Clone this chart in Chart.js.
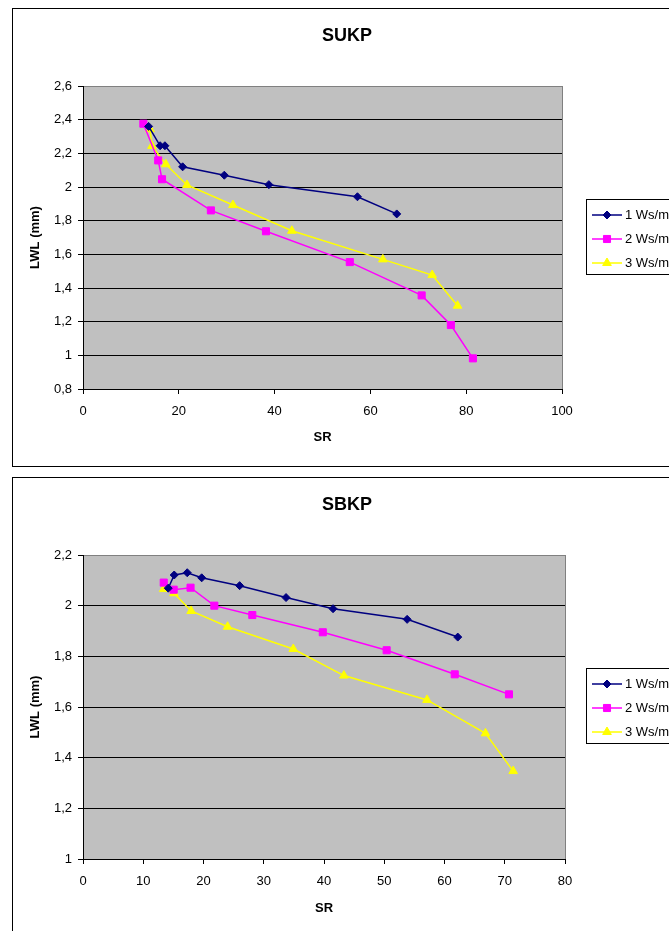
<!DOCTYPE html>
<html><head><meta charset="utf-8">
<script src="https://cdn.jsdelivr.net/npm/chart.js@4/dist/chart.umd.min.js"></script>
<style>
html,body{margin:0;padding:0;background:#fff;overflow:hidden;width:669px;height:931px;}
.box{position:absolute;left:12px;border:1px solid #000;background:#fff;}
#b1{top:8px;} #b2{top:477px;}
canvas{display:block;}
</style></head><body>
<div class="box" id="b1"><canvas id="c1" width="668" height="457"></canvas></div>
<div class="box" id="b2"><canvas id="c2" width="668" height="460"></canvas></div>
<script>
const SERIES_NAMES = ['1 Ws/mm', '2 Ws/mm', '3 Ws/mm'];
const TITLES = ['SUKP', 'SBKP'];
const X_TITLE = 'SR';
const Y_TITLE = 'LWL (mm)';

// SUKP (top)
const SUKP_SR_1  = [13.7, 16.1, 17.1, 20.8, 29.5, 38.8, 57.3, 65.5];
const SUKP_LWL_1 = [2.36, 2.245, 2.245, 2.12, 2.07, 2.014, 1.942, 1.84];
const SUKP_SR_2  = [12.6, 15.7, 16.5, 26.7, 38.2, 55.7, 70.7, 76.8, 81.4];
const SUKP_LWL_2 = [2.376, 2.158, 2.046, 1.861, 1.737, 1.554, 1.356, 1.18, 0.982];
const SUKP_SR_3  = [14.0, 14.4, 17.3, 21.7, 31.3, 43.6, 62.6, 72.9, 78.2];
const SUKP_LWL_3 = [2.343, 2.244, 2.135, 2.012, 1.893, 1.74, 1.57, 1.477, 1.295];

// SBKP (bottom)
const SBKP_SR_1  = [14.15, 15.14, 17.3, 19.7, 26.0, 33.7, 41.5, 53.8, 62.2];
const SBKP_LWL_1 = [2.069, 2.121, 2.13, 2.11, 2.079, 2.032, 1.988, 1.946, 1.876];
const SBKP_SR_2  = [13.4, 15.05, 17.85, 21.8, 28.1, 39.8, 50.4, 61.7, 70.7];
const SBKP_LWL_2 = [2.091, 2.063, 2.071, 2.0, 1.963, 1.895, 1.824, 1.729, 1.65];
const SBKP_SR_3  = [13.4, 15.1, 17.95, 24.0, 34.9, 43.3, 57.1, 66.8, 71.4];
const SBKP_LWL_3 = [2.066, 2.049, 1.979, 1.917, 1.829, 1.724, 1.628, 1.496, 1.347];

const FONT = '"Liberation Sans", Arial, sans-serif';
Chart.defaults.font.family = FONT;
Chart.defaults.color = '#000';

const STYLES = [
  {color: '#000080', pointStyle: 'rectRot', radius: 4},
  {color: '#FF00FF', pointStyle: 'rect', radius: 5},
  {color: '#FFFF00', pointStyle: 'triangle', radius: 5}
];

function pts(xs, ys) { return xs.map((x, i) => ({x: x, y: ys[i]})); }

function fmt(v) {
  const r = Math.round(v * 10) / 10;
  return String(r).replace('.', ',');
}

const plotBg = {
  id: 'plotBg',
  beforeDraw(chart) {
    const {ctx, chartArea: a} = chart;
    ctx.save();
    ctx.fillStyle = '#C0C0C0';
    ctx.fillRect(a.left, a.top, a.right - a.left, a.bottom - a.top);
    ctx.restore();
  },
  beforeDatasetsDraw(chart) {
    const {ctx, chartArea: a} = chart;
    ctx.save();
    ctx.strokeStyle = '#808080';
    ctx.lineWidth = 1;
    ctx.beginPath();
    ctx.moveTo(Math.round(a.right) + 0.5, a.top);
    ctx.lineTo(Math.round(a.right) + 0.5, a.bottom);
    ctx.stroke();
    ctx.restore();
  }
};

const xlLegend = {
  id: 'xlLegend',
  afterDraw(chart, args, o) {
    const ctx = chart.ctx;
    ctx.save();
    ctx.fillStyle = '#fff';
    ctx.fillRect(o.left, o.top, 200, o.height);
    ctx.strokeStyle = '#000';
    ctx.lineWidth = 1;
    ctx.strokeRect(o.left + 0.5, o.top + 0.5, 200, o.height);
    chart.data.datasets.forEach((ds, i) => {
      const y = o.top + o.rows[i];
      ctx.strokeStyle = ds.borderColor;
      ctx.lineWidth = ds.borderWidth;
      ctx.beginPath();
      ctx.moveTo(o.lineX0, y);
      ctx.lineTo(o.lineX1, y);
      ctx.stroke();
      ctx.fillStyle = ds.pointBackgroundColor;
      ctx.strokeStyle = ds.pointBorderColor;
      ctx.lineWidth = 1;
      if (Chart.helpers && Chart.helpers.drawPoint) {
        Chart.helpers.drawPoint(ctx, {pointStyle: ds.pointStyle, radius: ds.pointRadius, borderWidth: 1, rotation: 0}, (o.lineX0 + o.lineX1) / 2, y);
      }
      ctx.fillStyle = '#000';
      ctx.font = '13px ' + FONT;
      ctx.textBaseline = 'middle';
      ctx.textAlign = 'left';
      ctx.fillText(ds.label, o.textX, y);
    });
    ctx.restore();
  }
};

function makeChart(id, title, series, xCfg, yCfg, geo) {
  const datasets = series.map((s, i) => ({
    label: SERIES_NAMES[i],
    data: s,
    showLine: true,
    tension: 0,
    borderColor: STYLES[i].color,
    backgroundColor: STYLES[i].color,
    borderWidth: 1.5,
    pointStyle: STYLES[i].pointStyle,
    pointRadius: STYLES[i].radius,
    pointHoverRadius: STYLES[i].radius,
    pointBackgroundColor: STYLES[i].color,
    pointBorderColor: STYLES[i].color,
    pointBorderWidth: 1
  }));
  return new Chart(document.getElementById(id), {
    type: 'scatter',
    data: {datasets: datasets},
    plugins: [plotBg, xlLegend],
    options: {
      responsive: false,
      animation: false,
      events: [],
      layout: {padding: 0},
      plugins: {
        legend: {display: false},
        tooltip: {enabled: false},
        title: {
          display: true, text: title,
          font: {size: 18, weight: 'bold', lineHeight: 1.2},
          padding: {top: geo.titleTop, bottom: geo.titleBottom}
        },
        xlLegend: {left: 573, top: geo.legTop, height: 75, rows: [16, 40, 64], lineX0: 579, lineX1: 609, textX: 612}
      },
      scales: {
        x: {
          type: 'linear', position: 'bottom',
          min: xCfg.min, max: xCfg.max,
          afterFit: s => { s.height = geo.xH; },
          ticks: {stepSize: xCfg.step, padding: 10, font: {size: 13}, color: '#000', maxRotation: 0},
          grid: {display: true, drawOnChartArea: false, drawTicks: true, tickLength: 5, color: '#000', lineWidth: 1},
          border: {display: true, color: '#000', width: 1},
          title: {display: true, text: X_TITLE, font: {size: 13, weight: 'bold', lineHeight: 1.2}, padding: {top: 0, bottom: geo.xTitleBottom}}
        },
        y: {
          type: 'linear', position: 'left',
          min: yCfg.min, max: yCfg.max,
          afterFit: s => { s.width = 70; },
          ticks: {stepSize: yCfg.step, padding: 6, font: {size: 13}, color: '#000', callback: v => fmt(v)},
          grid: {
            display: true, drawOnChartArea: true, drawTicks: true, tickLength: 5, lineWidth: 1,
            color: c => (c.tick && Math.abs(c.tick.value - yCfg.max) < 1e-9) ? '#808080' : '#000',
            tickColor: '#000'
          },
          border: {display: true, color: '#000', width: 1},
          title: {display: true, text: Y_TITLE, font: {size: 13, weight: 'bold', lineHeight: 1.2}, padding: {top: 15, bottom: 0}}
        },
        rightSpace: {
          type: 'linear', position: 'right', display: true,
          afterFit: s => { s.width = geo.rightW; },
          ticks: {display: false},
          grid: {display: false, drawTicks: false},
          border: {display: false},
          title: {display: false}
        }
      }
    }
  });
}

makeChart('c1', TITLES[0],
  [pts(SUKP_SR_1, SUKP_LWL_1), pts(SUKP_SR_2, SUKP_LWL_2), pts(SUKP_SR_3, SUKP_LWL_3)],
  {min: 0, max: 100, step: 20},
  {min: 0.8, max: 2.6, step: 0.2},
  {titleTop: 16.2, titleBottom: 39.2, xH: 77, xTitleBottom: 21, rightW: 119, legTop: 190});

makeChart('c2', TITLES[1],
  [pts(SBKP_SR_1, SBKP_LWL_1), pts(SBKP_SR_2, SBKP_LWL_2), pts(SBKP_SR_3, SBKP_LWL_3)],
  {min: 0, max: 80, step: 10},
  {min: 1, max: 2.2, step: 0.2},
  {titleTop: 16.2, titleBottom: 39.2, xH: 79, xTitleBottom: 22, rightW: 116, legTop: 190});
</script>
</body></html>
